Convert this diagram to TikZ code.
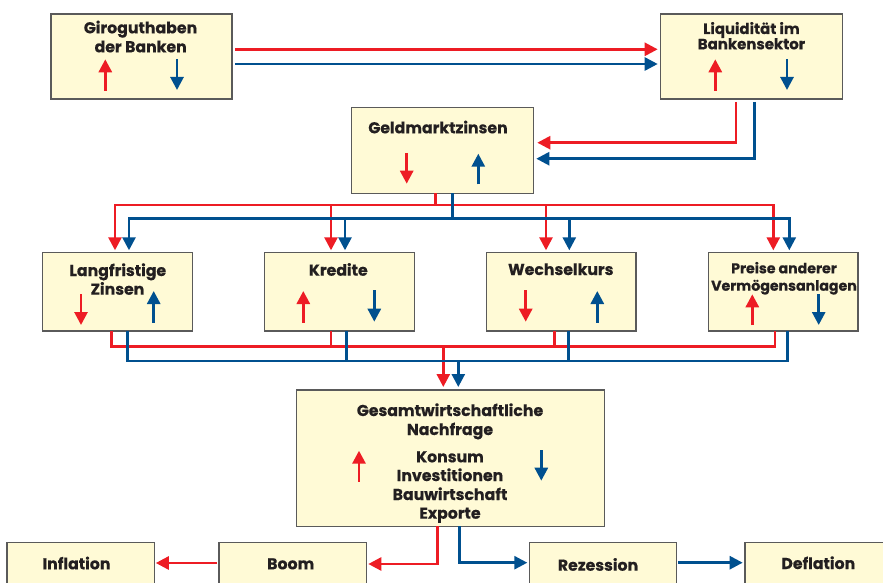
\documentclass[tikz,border=0pt]{standalone}
\usepackage{fontspec}
\setmainfont{Poppins}[BoldFeatures={FakeBold=0.5}]
\usetikzlibrary{arrows.meta,calc}
\definecolor{cred}{HTML}{ED1C24}
\definecolor{cblue}{HTML}{00508F}
\definecolor{cfill}{HTML}{FFFAD6}
\definecolor{cborder}{HTML}{5A5A5A}
\definecolor{ctext}{HTML}{231F20}
\begin{document}
\begin{tikzpicture}[x=1bp,y=-1bp,
  box/.style={draw=cborder, line width=1.5bp, fill=cfill, inner sep=0, outer sep=0, anchor=north west},
  lbl/.style={text=ctext, font=\fontsize{15.8}{18}\selectfont\bfseries, inner sep=0, anchor=base},
  lblm/.style={lbl, font=\fontsize{15}{18}\selectfont\bfseries},
  lbls/.style={lbl, font=\fontsize{14.2}{18}\selectfont\bfseries},
  rline/.style={draw=cred, line width=2.6bp},
  bline/.style={draw=cblue, line width=2.6bp},
  tip/.style={-{Triangle[length=13bp,width=13bp]}},
  sup/.style={line width=2.8bp, -{Triangle[length=13bp,width=13bp]}}
]
\clip (0,0) rectangle (883,583);
\fill[white] (0,0) rectangle (883,583);

% boxes
\node[box, minimum width=181bp, minimum height=85bp] (giro) at (51,14) {};
\node[box, minimum width=181.6bp, minimum height=85bp] (liq) at (660.7,14) {};
\node[box, minimum width=181.6bp, minimum height=85.6bp] (geld) at (351.7,107.7) {};
\node[box, minimum width=149.6bp, minimum height=78.7bp] (lang) at (42.7,252.3) {};
\node[box, minimum width=149.6bp, minimum height=78.7bp] (kred) at (264.7,252.3) {};
\node[box, minimum width=149.3bp, minimum height=78.7bp] (wech) at (486.7,252.3) {};
\node[box, minimum width=149.3bp, minimum height=78.7bp] (preis) at (708.7,252.3) {};
\node[box, minimum width=307.6bp, minimum height=136.3bp] (ges) at (296.7,390) {};
\node[box, minimum width=147.3bp, minimum height=80bp] (infl) at (7,542.3) {};
\node[box, minimum width=147.3bp, minimum height=80bp] (boom) at (219,542.3) {};
\node[box, minimum width=147.4bp, minimum height=80bp] (rez) at (529.3,542.3) {};
\node[box, minimum width=147.4bp, minimum height=80bp] (defl) at (745,542.3) {};

% texts
\node[lbl] (t1) at (140.5,33.3) {Giroguthaben};
\node[lbl] (t2) at (140.7,52.3) {der Banken};
\node[lblm] (t3) at (751.5,34) {Liquidität im};
\node[lblm] (t4) at (751.5,49.3) {Bankensektor};
\node[lbl] (t5) at (438,133.3) {Geldmarktzinsen};
\node[lbl] (t6) at (117.8,276) {Langfristige};
\node[lbl] (t7) at (117.5,294.7) {Zinsen};
\node[lbl] (t8) at (338.3,275.7) {Kredite};
\node[lbl] (t9) at (560.8,275) {Wechselkurs};
\node[lbls] (t10) at (784,273.3) {Preise anderer};
\node[lbls] (t11) at (784,290.7) {Vermögensanlagen};
\node[lbl] (t12) at (450,416) {Gesamtwirtschaftliche};
\node[lbl] (t13) at (450,435) {Nachfrage};
\node[lbl] (t14) at (450,462.3) {Konsum};
\node[lbl] (t15) at (450,481) {Investitionen};
\node[lbl] (t16) at (450,500) {Bauwirtschaft};
\node[lbl] (t17) at (450,518.7) {Exporte};
\node[lbl] (t18) at (76.5,569.3) {Inflation};
\node[lbl] (t19) at (290.7,569.3) {Boom};
\node[lbl] (t20) at (598,570.7) {Rezession};
\node[lbl] (t21) at (818.3,569) {Deflation};

% small arrows inside boxes
\draw[sup,cred] (105.3,90.7) -- (105.3,59.3);
\draw[sup,cblue] (177,59) -- (177,90);
\draw[sup,cred] (715.3,91) -- (715.3,59.3);
\draw[sup,cblue] (787,59) -- (787,90);
\draw[sup,cred] (406.7,153) -- (406.7,183.7);
\draw[sup,cblue] (478.3,184.3) -- (478.3,153.7);
\draw[sup,cred] (81,294) -- (81,325);
\draw[sup,cblue] (153.7,322.7) -- (153.7,291);
\draw[sup,cred] (303.3,322.7) -- (303.3,291);
\draw[sup,cblue] (374.3,290) -- (374.3,321.7);
\draw[sup,cred] (525.7,290) -- (525.7,321.7);
\draw[sup,cblue] (597.3,322.7) -- (597.3,291);
\draw[sup,cred] (752.3,325) -- (752.3,294.3);
\draw[sup,cblue] (818.7,294.3) -- (818.7,325);
\draw[sup,cred] (359,481.7) -- (359,450.7);
\draw[sup,cblue] (541.3,450) -- (541.3,480.7);

% routing coordinates
\coordinate (ya) at (0,49.3);
\coordinate (yb) at (0,64);
\coordinate (r2) at (736,142.7);
\coordinate (b2) at (754.3,158.7);
\coordinate (rT) at (435.7,205);
\coordinate (bT) at (452.3,218.3);
\coordinate (rL) at (115,205);
\coordinate (rK) at (331,205);
\coordinate (rW) at (546,205);
\coordinate (rP) at (773.3,205);
\coordinate (bL) at (129,218.3);
\coordinate (bK) at (345,218.3);
\coordinate (bW) at (569.3,218.3);
\coordinate (bP) at (789.3,218.3);
\coordinate (sL) at (111.7,346.7);
\coordinate (sK) at (331,346.7);
\coordinate (sW) at (554.3,346.7);
\coordinate (sP) at (775,346.7);
\coordinate (sD) at (443.3,346.7);
\coordinate (uL) at (127.7,361);
\coordinate (uK) at (346.7,361);
\coordinate (uW) at (568.3,361);
\coordinate (uP) at (787.7,361);
\coordinate (uD) at (458.3,361);
\coordinate (g1) at (437.7,564);
\coordinate (g2) at (459.3,562.7);
\coordinate (g3) at (0,563);
\coordinate (g4) at (0,562.7);

% Giro -> Liq
\draw[rline,tip,shorten <=3bp,shorten >=3bp] (giro.east |- ya) -- (liq.west |- ya);
\draw[bline,tip,shorten <=3bp,shorten >=3bp] (giro.east |- yb) -- (liq.west |- yb);
% Liq -> Geld
\draw[rline,tip,shorten <=3bp,shorten >=4bp] (liq.south -| r2) |- (geld.east |- r2);
\draw[bline,tip,shorten <=3bp,shorten >=3bp] (liq.south -| b2) |- (geld.east |- b2);
% Geld -> second row
\draw[rline] (geld.south -| rT) -- (rT);
\draw[rline,tip,shorten >=2bp] (rP) -| (lang.north -| rL);
\draw[rline,tip,shorten >=2bp] (rL) -| (preis.north -| rP);
\draw[rline,tip,shorten >=2bp] (rK) -- (kred.north -| rK);
\draw[rline,tip,shorten >=2bp] (rW) -- (wech.north -| rW);
\draw[bline] (geld.south -| bT) -- (bT);
\draw[bline,tip,shorten >=2bp] (bP) -| (lang.north -| bL);
\draw[bline,tip,shorten >=2bp] (bL) -| (preis.north -| bP);
\draw[bline,tip,shorten >=2bp] (bK) -- (kred.north -| bK);
\draw[bline,tip,shorten >=2bp] (bW) -- (wech.north -| bW);
% second row -> Gesamt
\draw[rline] (lang.south -| sL) |- (sP) -- (preis.south -| sP);
\draw[rline] (kred.south -| sK) -- (sK);
\draw[rline] (wech.south -| sW) -- (sW);
\draw[rline,tip,shorten >=3bp] (sD) -- (ges.north -| sD);
\draw[bline] (lang.south -| uL) |- (uP) -- (preis.south -| uP);
\draw[bline] (kred.south -| uK) -- (uK);
\draw[bline] (wech.south -| uW) -- (uW);
\draw[bline,tip,shorten >=3bp] (uD) -- (ges.north -| uD);
% Gesamt -> Boom / Rezession
\draw[rline,tip,shorten >=2bp] (ges.south -| g1) |- (boom.east |- g1);
\draw[bline,tip,shorten >=2bp] (ges.south -| g2) |- (rez.west |- g2);
% Boom -> Inflation, Rezession -> Deflation
\draw[rline,tip,shorten <=2bp,shorten >=1.5bp] (boom.west |- g3) -- (infl.east |- g3);
\draw[bline,tip,shorten <=1.6bp,shorten >=2.3bp] (rez.east |- g4) -- (defl.west |- g4);
\end{tikzpicture}
\end{document}
